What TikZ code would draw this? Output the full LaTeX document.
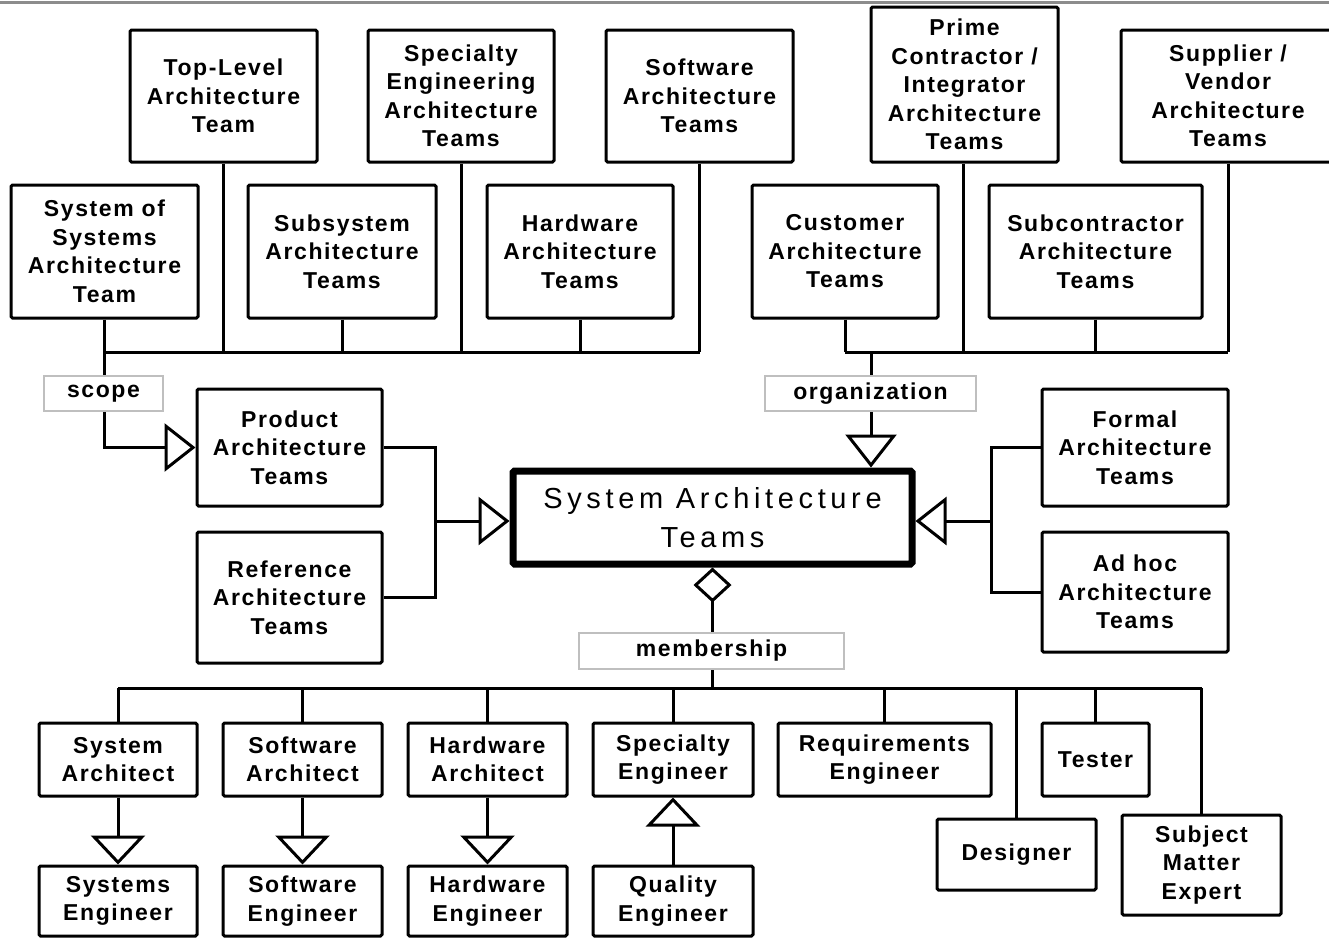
\documentclass[tikz,border=0pt]{standalone}
\usepackage{fontspec}
\setmainfont{Liberation Sans}
\newfontfamily\boxfont{Liberation Sans Bold}[LetterSpace=7]
\newfontfamily\centrefont{Liberation Sans}[LetterSpace=16]
\usetikzlibrary{arrows.meta}

% \bx{name}{left}{top}{right}{bottom}{text}
\newcommand\bx[6]{\node[box, minimum width={(#4-#2)*1pt}, minimum height={(#5-#3)*1pt}]
  (#1) at ({(#2+#4)/2},{(#3+#5)/2}) {#6};}
% \tg{name}{left}{top}{right}{bottom}{text}
\newcommand\tg[6]{\node[tag, minimum width={(#4-#2)*1pt}, minimum height={(#5-#3)*1pt}]
  (#1) at ({(#2+#4)/2},{(#3+#5)/2}) {#6};}

\begin{document}
\begin{tikzpicture}[x=1pt,y=-1pt,
  box/.style={draw, line width=3pt, rectangle, rounded corners=1.5pt, align=center, inner sep=0pt,
    font={\boxfont\fontsize{23}{28.5}\selectfont}},
  tag/.style={draw=black!25, line width=1.2pt, fill=white, inner sep=0pt,
    font={\boxfont\fontsize{23}{28.5}\selectfont}},
  conn/.style={line width=3pt},
  genv/.style={conn, -{Triangle[open, length=29pt, width=54pt]}},
  genh/.style={conn, -{Triangle[open, length=31pt, width=48pt]}},
  gent/.style={conn, -{Triangle[open, length=33pt, width=51pt]}},
  aggr/.style={conn, {Diamond[open, length=35pt, width=38pt]}-},
]
\useasboundingbox (0,0) rectangle (1329,938);
\draw[black!45, line width=2.5pt] (0,2.5) -- (1329,2.5);

% ---- upper teams
\bx{tl}{130}{30}{317}{162}{Top-Level\\Architecture\\Team}
\bx{spec}{368}{30}{554}{162}{Specialty\\Engineering\\Architecture\\Teams}
\bx{swt}{606}{30}{793}{162}{Software\\Architecture\\Teams}
\bx{prime}{871}{7}{1058}{162}{Prime\\Contractor /\\Integrator\\Architecture\\Teams}
\bx{supp}{1121}{30}{1335}{162}{Supplier /\\Vendor\\Architecture\\Teams}

\bx{sos}{11}{185}{198}{318}{System of\\Systems\\Architecture\\Team}
\bx{subs}{248}{185}{436}{318}{Subsystem\\Architecture\\Teams}
\bx{hwt}{487}{185}{673}{318}{Hardware\\Architecture\\Teams}
\bx{cust}{752}{185}{938}{318}{Customer\\Architecture\\Teams}
\bx{subc}{989}{185}{1202}{318}{Subcontractor\\Architecture\\Teams}

% ---- middle
\bx{prod}{197}{389}{382}{506}{Product\\Architecture\\Teams}
\bx{refa}{197}{532}{382}{663}{Reference\\Architecture\\Teams}
\bx{form}{1042}{389}{1228}{506}{Formal\\Architecture\\Teams}
\bx{adhoc}{1042}{532}{1228}{652}{Ad hoc\\Architecture\\Teams}
\node[draw, line width=7pt, rectangle, rounded corners=1.5pt, align=center, inner sep=0pt,
  minimum width=399pt, minimum height=93pt,
  font={\centrefont\fontsize{29}{39}\selectfont}] (sat) at (712.5,517.5)
  {System Architecture\\Teams};

% ---- members
\bx{sa}{39}{723}{197}{796}{System\\Architect}
\bx{swa}{223}{723}{382}{796}{Software\\Architect}
\bx{hwa}{408}{723}{567}{796}{Hardware\\Architect}
\bx{spe}{593}{723}{753}{796}{Specialty\\Engineer}
\bx{req}{778}{723}{991}{796}{Requirements\\Engineer}
\bx{test}{1042}{723}{1149}{796}{Tester}
\bx{des}{937}{819}{1096}{890}{Designer}
\bx{sme}{1122}{815}{1281}{915}{Subject\\Matter\\Expert}
\bx{se}{39}{866}{197}{936}{Systems\\Engineer}
\bx{swe}{223}{866}{382}{936}{Software\\Engineer}
\bx{hwe}{408}{866}{567}{936}{Hardware\\Engineer}
\bx{qe}{593}{866}{753}{936}{Quality\\Engineer}

% ---- bus coordinates
\coordinate (lbus) at (0,352);
\coordinate (rbus) at (0,352);
\coordinate (bbus) at (0,688);
\coordinate (orgx) at (871,0);
\coordinate (primex) at (963,0);
\coordinate (suppx) at (1228,0);
\coordinate (jl) at (435,0);
\coordinate (jr) at (991,0);
\coordinate (jlm) at (435,521);
\coordinate (jrm) at (991,521);

% scope hierarchy
\draw[conn] (sos.south |- lbus) -- (swt.south |- lbus);
\foreach \n in {tl,spec,swt,subs,hwt} \draw[conn] (\n.south) -- (\n.south |- lbus);
\draw[genh] (sos.south) |- (prod.west);

% organization hierarchy
\draw[conn] (cust.south |- rbus) -- (suppx |- rbus);
\draw[conn] (primex |- prime.south) -- (primex |- rbus);
\draw[conn] (suppx |- supp.south) -- (suppx |- rbus);
\foreach \n in {cust,subc} \draw[conn] (\n.south) -- (\n.south |- rbus);
\draw[gent] (orgx |- rbus) -- (orgx |- sat.north);

% kinds of architecture teams
\draw[conn] (prod.east) -| (jl |- refa.east) -- (refa.east);
\draw[genh] (jlm) -- (jlm -| sat.west);
\draw[conn] (form.west) -| (jr |- adhoc.west) -- (adhoc.west);
\draw[genh] (jrm) -- (jrm -| sat.east);

% membership
\draw[aggr] (sat.south) -- (sat.south |- bbus);
\draw[conn] (sa.north |- bbus) -- (sme.north |- bbus);
\foreach \n in {sa,swa,hwa,spe,req,test,des,sme} \draw[conn] (\n.north) -- (\n.north |- bbus);
\draw[genv] (sa.south) -- (se.north);
\draw[genv] (swa.south) -- (swe.north);
\draw[genv] (hwa.south) -- (hwe.north);
\draw[genv] (qe.north) -- (spe.south);

% relationship labels
\tg{scope}{44}{376}{163}{411}{scope}
\tg{org}{765}{376}{976}{411}{organization}
\tg{memb}{579}{633}{844}{669}{membership}
\end{tikzpicture}
\end{document}
